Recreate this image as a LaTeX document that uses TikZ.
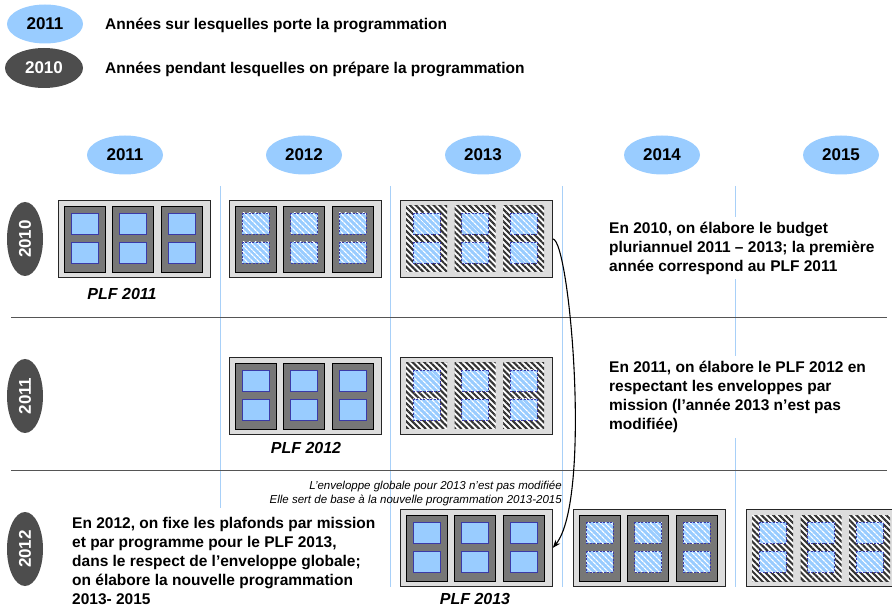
\documentclass[tikz,border=0pt]{standalone}
\usepackage{fontspec}
\setmainfont{Liberation Sans}
\usetikzlibrary{shapes.geometric,patterns.meta,arrows.meta}
\definecolor{yearblue}{HTML}{99CCFF}
\definecolor{darkyear}{HTML}{4D4D4D}
\definecolor{framegray}{HTML}{DDDDDD}
\definecolor{colgray}{HTML}{777777}
\definecolor{sqborder}{HTML}{3A3AA8}
\definecolor{vline}{HTML}{A8D0F8}
\definecolor{hline}{HTML}{555555}
\definecolor{stripegray}{HTML}{333333}
\tikzset{
  yearlab/.style={ellipse, fill=yearblue, minimum width=76pt, minimum height=39pt, inner sep=0pt,
    font=\fontsize{17}{17}\selectfont\bfseries},
  preplab/.style={ellipse, fill=darkyear, text=white, minimum width=78pt, minimum height=40pt, inner sep=0pt,
    font=\fontsize{17}{17}\selectfont\bfseries},
  rowlab/.style={ellipse, fill=darkyear, text=white, minimum width=74pt, minimum height=36pt, inner sep=0pt,
    rotate=90, font=\fontsize{17}{17}\selectfont\bfseries},
  legtext/.style={anchor=west, inner sep=0pt, font=\fontsize{15.5}{19}\selectfont\bfseries},
  bodytext/.style={align=left, fill=white, inner sep=5pt, font=\fontsize{15.5}{19}\selectfont\bfseries},
  notetext/.style={align=right, inner sep=0pt, font=\fontsize{11.5}{13.5}\selectfont\itshape},
  plflab/.style={inner sep=0pt, font=\fontsize{16}{16}\selectfont\bfseries\itshape},
  boxframe/.style={rectangle, draw=black!85, fill=framegray, line width=0.8pt,
    minimum width=152pt, minimum height=77pt, inner sep=0pt},
  colplain/.style={fill=colgray, draw=black, line width=0.7pt},
  colstripe/.style={preaction={fill=white},
    pattern={Lines[angle=-45, distance=4.2pt, line width=2.1pt]}, pattern color=stripegray},
  sqplain/.style={fill=yearblue, draw=sqborder, line width=0.8pt},
  sqhatch/.style={preaction={fill=yearblue},
    pattern={Lines[angle=-45, distance=4pt, line width=1.3pt]}, pattern color=white,
    draw=sqborder, line width=0.8pt, dash pattern=on 2pt off 1.5pt},
  gridv/.style={draw=vline, line width=0.9pt},
  gridh/.style={draw=hline, line width=0.9pt},
  arrowline/.style={draw=black, line width=1.1pt, -{Stealth[length=8pt, width=6pt]}}
}
\newcommand{\budgetbox}[5]{%
  \node[boxframe, anchor=north west] (#1) at (#2,#3) {};
  \foreach \c in {0,1,2}{%
    \path[#4] ({#2+6+48.5*\c},{#3+6}) rectangle ++(41,66);
    \path[#5] ({#2+13+48.5*\c},{#3+13}) rectangle ++(27,21);
    \path[#5] ({#2+13+48.5*\c},{#3+42}) rectangle ++(27,21);
  }%
}
\begin{document}
\begin{tikzpicture}[x=1pt, y=-1pt]
\path[use as bounding box] (0,0) rectangle (892,609);
\clip (0,0) rectangle (892,609);

% legend
\node[yearlab] (leg11) at (45,24) {2011};
\node[preplab] (leg10) at (44,68) {2010};
\node[legtext] (legt1) at (105,25) {Années sur lesquelles porte la programmation};
\node[legtext] (legt2) at (105,69) {Années pendant lesquelles on prépare la programmation};

% top years
\node[yearlab] (y2011) at (125,155) {2011};
\node[yearlab] (y2012) at (304,155) {2012};
\node[yearlab] (y2013) at (483,155) {2013};
\node[yearlab] (y2014) at (662,155) {2014};
\node[yearlab] (y2015) at (841,155) {2015};

% grid
\foreach \x in {220,390,562,735} \draw[gridv] (\x,186) -- (\x,587);
\draw[gridh] (11,317) -- (887,317);
\draw[gridh] (11,470) -- (887,470);

% row labels
\node[rowlab] (r2010) at (25,239) {2010};
\node[rowlab] (r2011) at (25,396) {2011};
\node[rowlab] (r2012) at (25,549) {2012};

% texts
\node[bodytext, anchor=west] (t1) at (604,248) {En 2010, on élabore le budget\\pluriannuel 2011 – 2013; la première\\année correspond au PLF 2011};
\node[bodytext, anchor=west] (t2) at (604,397) {En 2011, on élabore le PLF 2012 en\\respectant les enveloppes par\\mission (l’année 2013 n’est pas\\modifiée)};
\node[bodytext, anchor=west, inner ysep=9pt] (t3) at (67,561) {En 2012, on fixe les plafonds par mission\\et par programme pour le PLF 2013,\\dans le respect de l’enveloppe globale;\\on élabore la nouvelle programmation\\2013- 2015};
\node[notetext, anchor=east] (note) at (562,493.5) {L’enveloppe globale pour 2013 n’est pas modifiée\\Elle sert de base à la nouvelle programmation 2013-2015};

% boxes
\budgetbox{boxA}{58}{200}{colplain}{sqplain}
\budgetbox{boxB}{229}{200}{colplain}{sqhatch}
\budgetbox{boxC}{400}{200}{colstripe}{sqhatch}
\budgetbox{boxB2}{229}{357}{colplain}{sqplain}
\budgetbox{boxC2}{400}{357}{colstripe}{sqhatch}
\budgetbox{boxC3}{400}{509}{colplain}{sqplain}
\budgetbox{boxD}{573}{509}{colplain}{sqhatch}
\budgetbox{boxE}{746}{509}{colstripe}{sqhatch}

% PLF labels
\node[plflab] (plf11) at (122,294) {PLF 2011};
\node[plflab] (plf12) at (306,448) {PLF 2012};
\node[plflab] (plf13) at (475,599) {PLF 2013};

% arrow
\draw[arrowline] (boxC.east) .. controls (570,240) and (592,500) .. (boxC3.east);
\end{tikzpicture}
\end{document}
